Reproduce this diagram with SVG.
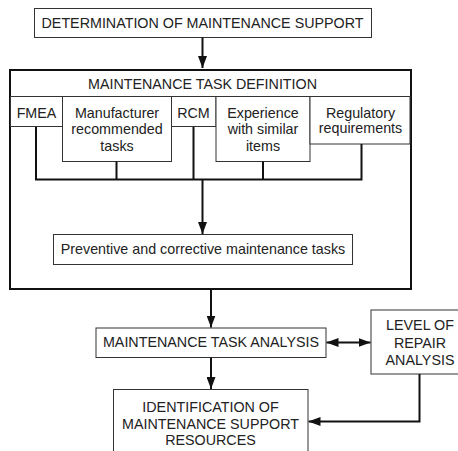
<svg xmlns="http://www.w3.org/2000/svg" width="458" height="451" viewBox="0 0 458 451">
  <style>
    .box { fill: #fff; stroke: #333; stroke-width: 1; }
    .frame { fill: #fff; stroke: #111; stroke-width: 2; }
    .wire { fill: none; stroke: #111; stroke-width: 2; }
    text { font-family: "Liberation Sans", Arial, Helvetica, sans-serif; font-size: 14.3px; fill: #222; text-anchor: middle; }
  </style>
  <defs>
    <marker id="arrow" markerUnits="userSpaceOnUse" markerWidth="12" markerHeight="9" refX="12" refY="4.5" orient="auto">
      <path d="M0,0 L12,4.5 L0,9 z" fill="#111"/>
    </marker>
    <marker id="arrowStart" markerUnits="userSpaceOnUse" markerWidth="12" markerHeight="9" refX="0" refY="4.5" orient="auto">
      <path d="M12,0 L0,4.5 L12,9 z" fill="#111"/>
    </marker>
  </defs>

  <g id="determination">
    <rect class="box" x="34.5" y="8.5" width="337" height="29"/>
    <text x="202.5" y="27.5">DETERMINATION OF MAINTENANCE SUPPORT</text>
  </g>

  <g id="task-definition">
    <rect class="frame" x="10" y="70" width="401" height="219"/>
    <line x1="10" y1="96.5" x2="411" y2="96.5" stroke="#333" stroke-width="1"/>
    <text x="202.5" y="88.5">MAINTENANCE TASK DEFINITION</text>
  </g>

  <g id="fmea">
    <rect class="box" x="10.5" y="96.5" width="52" height="30"/>
    <text x="36.5" y="117.5">FMEA</text>
  </g>

  <g id="manufacturer">
    <rect class="box" x="62.5" y="96.5" width="109" height="65"/>
    <text x="117" y="117.5">Manufacturer</text>
    <text x="117" y="134">recommended</text>
    <text x="117" y="151">tasks</text>
  </g>

  <g id="rcm">
    <rect class="box" x="171.5" y="96.5" width="44.5" height="30"/>
    <text x="193.5" y="117.5">RCM</text>
  </g>

  <g id="experience">
    <rect class="box" x="216" y="96.5" width="94" height="65"/>
    <text x="263" y="117.5">Experience</text>
    <text x="263" y="134">with similar</text>
    <text x="263" y="151">items</text>
  </g>

  <g id="regulatory">
    <rect class="box" x="310" y="96.5" width="100" height="47.5"/>
    <text x="360.5" y="117.5">Regulatory</text>
    <text x="360.5" y="133">requirements</text>
  </g>

  <g id="preventive-corrective">
    <rect class="box" x="53.5" y="234.5" width="299" height="30"/>
    <text x="203" y="253.5">Preventive and corrective maintenance tasks</text>
  </g>

  <g id="task-analysis">
    <rect class="box" x="96" y="328" width="230" height="29.5"/>
    <text x="211" y="347">MAINTENANCE TASK ANALYSIS</text>
  </g>

  <g id="level-of-repair">
    <rect class="box" x="371" y="310" width="100" height="64"/>
    <text x="420" y="330">LEVEL OF</text>
    <text x="420" y="347.5">REPAIR</text>
    <text x="420" y="365">ANALYSIS</text>
  </g>

  <g id="support-resources">
    <rect class="box" x="113.5" y="389.5" width="194.5" height="80"/>
    <text x="210.5" y="411.5">IDENTIFICATION OF</text>
    <text x="210.5" y="428.5">MAINTENANCE SUPPORT</text>
    <text x="210.5" y="445">RESOURCES</text>
  </g>

  <g id="connectors">
    <line class="wire" x1="202.5" y1="37.5" x2="202.5" y2="68" marker-end="url(#arrow)"/>
    <path class="wire" d="M36,127 V179.5 M116.5,161.5 V179.5 M193.5,127 V179.5 M263,161.5 V179.5 M361.5,144 V179.5 M35,179.5 H362.5"/>
    <line class="wire" x1="202.5" y1="179.5" x2="202.5" y2="234" marker-end="url(#arrow)"/>
    <line class="wire" x1="211" y1="289" x2="211" y2="327.5" marker-end="url(#arrow)"/>
    <line class="wire" x1="211" y1="357.5" x2="211" y2="389" marker-end="url(#arrow)"/>
    <line class="wire" x1="326.5" y1="342.5" x2="370.5" y2="342.5" marker-start="url(#arrowStart)" marker-end="url(#arrow)"/>
    <path class="wire" d="M419.5,374 V421.5 H308.5" marker-end="url(#arrow)"/>
  </g>
</svg>
